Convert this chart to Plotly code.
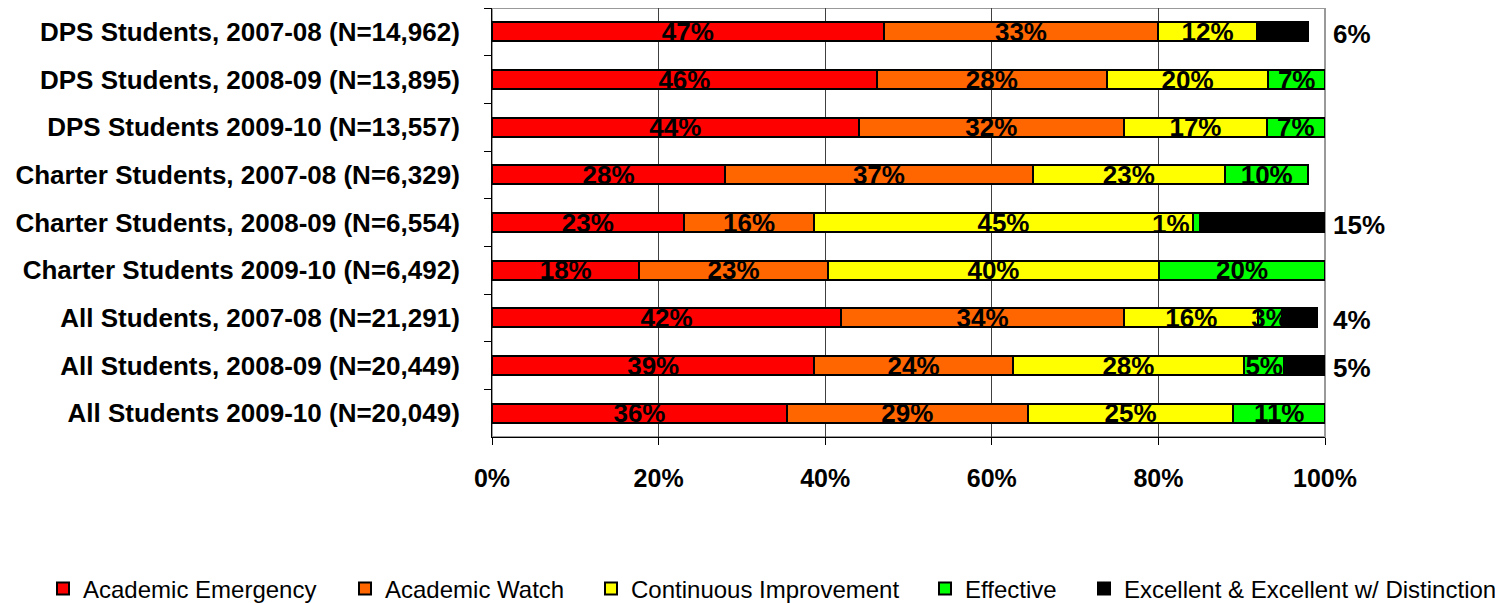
import plotly.graph_objects as go

categories = [
    "DPS Students, 2007-08 (N=14,962)",
    "DPS Students, 2008-09 (N=13,895)",
    "DPS Students 2009-10 (N=13,557)",
    "Charter Students, 2007-08 (N=6,329)",
    "Charter Students, 2008-09 (N=6,554)",
    "Charter Students 2009-10 (N=6,492)",
    "All Students, 2007-08 (N=21,291)",
    "All Students, 2008-09 (N=20,449)",
    "All Students 2009-10 (N=20,049)",
]

series_names = [
    "Academic Emergency",
    "Academic Watch",
    "Continuous Improvement",
    "Effective",
    "Excellent & Excellent w/ Distinction",
]

emergency = [47.0, 46.2, 44.0, 28.0, 23.0, 17.7, 41.9, 38.7, 35.4]
watch = [33.0, 27.6, 31.9, 36.9, 15.7, 22.6, 34.0, 23.8, 28.9]
improvement = [11.8, 19.4, 17.1, 23.1, 45.4, 39.8, 16.1, 27.8, 24.7]
effective = [0, 6.8, 7.0, 10.0, 0.9, 19.9, 2.8, 4.8, 11.0]
excellent = [6.2, 0, 0, 0, 15.0, 0, 4.2, 4.9, 0]

emergency_lbl = ["47%", "46%", "44%", "28%", "23%", "18%", "42%", "39%", "36%"]
watch_lbl = ["33%", "28%", "32%", "37%", "16%", "23%", "34%", "24%", "29%"]
improvement_lbl = ["12%", "20%", "17%", "23%", "45%", "40%", "16%", "28%", "25%"]
effective_lbl = ["", "7%", "7%", "10%", "1%", "20%", "3%", "5%", "11%"]
excellent_lbl = ["6%", "", "", "", "15%", "", "4%", "5%", ""]

colors = ["#FF0000", "#FF6600", "#FFFF00", "#00FF00", "#000000"]

x_ticks = [0, 20, 40, 60, 80, 100]
x_ticktext = ["0%", "20%", "40%", "60%", "80%", "100%"]

FONT = "Liberation Sans, Arial, sans-serif"
FIG_W, FIG_H = 1495, 595          # page body has an 8px margin
legend_text_px = [80, 382, 628, 962, 1121]   # where each legend text starts (page px)
LABEL_FONT = dict(family=FONT, size=26, color="#000000", weight="bold")

fig = go.Figure()
all_vals = [emergency, watch, improvement, effective, excellent]
all_lbls = [emergency_lbl, watch_lbl, improvement_lbl, effective_lbl, None]
legend_ids = ["legend", "legend2", "legend3", "legend4", "legend5"]

# very narrow segments (<2%) get their label just to the left of the segment
start = [0.0] * len(categories)
narrow_labels = []
for name, vals, lbls, col, lid in zip(series_names, all_vals, all_lbls, colors, legend_ids):
    shown = None
    if lbls:
        shown = []
        for i, (v, t) in enumerate(zip(vals, lbls)):
            if t and 0 < v < 2:
                narrow_labels.append((categories[i], start[i] + v, t))
                shown.append("")
            else:
                shown.append(t)
    fig.add_trace(go.Bar(
        y=categories, x=vals, name=name, orientation="h",
        marker=dict(color=col, line=dict(color="#000000", width=2)),
        text=shown,
        textposition="inside" if shown else "none",
        insidetextanchor="middle",
        constraintext="none",
        textangle=0,
        textfont=LABEL_FONT,
        insidetextfont=LABEL_FONT,
        hoverinfo="x+y+name",
        legend=lid,
    ))
    start = [s + v for s, v in zip(start, vals)]

for cat, xend, t in narrow_labels:
    fig.add_annotation(x=xend, y=cat, xref="x", yref="y", text=t, showarrow=False,
                       xanchor="right", yanchor="middle", xshift=-8, yshift=-1,
                       font=LABEL_FONT)

# outside labels for the black segment
for cat, v, lbl in zip(categories, excellent, excellent_lbl):
    if v > 0:
        fig.add_annotation(
            x=100, y=cat, xref="x", yref="y", text=lbl, showarrow=False,
            xanchor="left", yanchor="middle", xshift=6, yshift=-2,
            font=LABEL_FONT,
        )

fig.add_shape(type="rect", xref="paper", yref="paper", x0=0, x1=1, y0=0, y1=1,
              line=dict(color="#999999", width=2), layer="below")

legend_y = 1 - (589 - 8) / FIG_H
legend_layouts = {}
for lid, tx in zip(legend_ids, legend_text_px):
    legend_layouts[lid] = dict(
        orientation="h", xref="container", yref="container",
        x=(tx - 8 - 37) / FIG_W, y=legend_y, xanchor="left", yanchor="middle",
        font=dict(family=FONT, size=24, color="#000000"),
        bgcolor="rgba(0,0,0,0)", itemwidth=30,
    )

fig.update_layout(
    width=FIG_W, height=FIG_H,
    barmode="stack", bargap=0.6,
    plot_bgcolor="#FFFFFF", paper_bgcolor="#FFFFFF",
    margin=dict(l=484, r=178, t=0, b=166, autoexpand=False),
    font=dict(family=FONT, color="#000000"),
    showlegend=True,
    xaxis=dict(
        range=[0, 100], tickvals=x_ticks, ticktext=x_ticktext,
        showgrid=True, gridcolor="#404040", gridwidth=1,
        showline=True, linecolor="#000000", linewidth=1,
        ticks="outside", ticklen=7, tickcolor="#000000",
        tickfont=dict(family=FONT, size=25, color="#000000", weight="bold"),
        ticklabelstandoff=12, zeroline=False, fixedrange=True,
    ),
    yaxis=dict(
        type="category", categoryorder="array", categoryarray=categories,
        autorange="reversed", showgrid=False,
        showline=True, linecolor="#000000", linewidth=1,
        ticks="outside", ticklen=7, tickcolor="#000000", tickson="boundaries",
        tickfont=dict(family=FONT, size=26, color="#000000", weight="bold"),
        ticklabelstandoff=26, fixedrange=True,
    ),
    **legend_layouts,
)

fig.write_html("out.html")
